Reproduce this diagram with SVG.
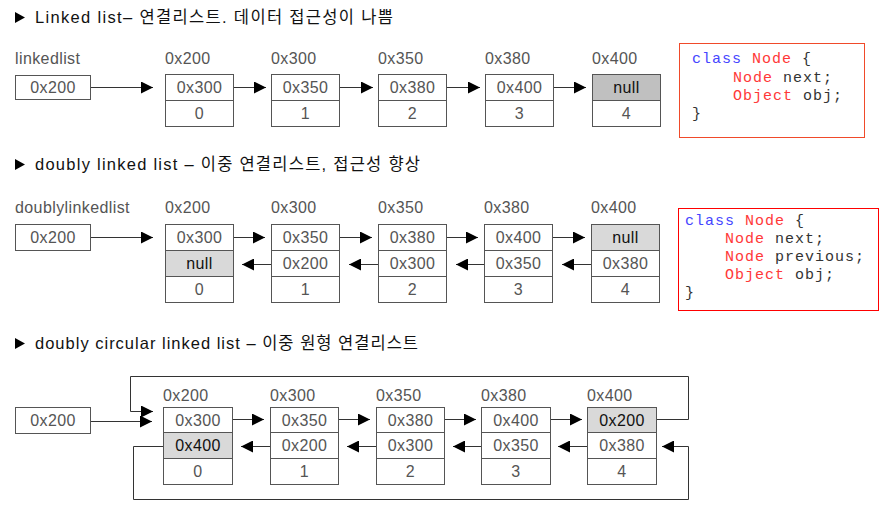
<svg xmlns="http://www.w3.org/2000/svg" width="893" height="506" viewBox="0 0 893 506">
<style>
.bg{fill:#fff}
.box{fill:#fff;stroke:#555;stroke-width:1}
.gd{fill:#c0c0c0;stroke:#555;stroke-width:1}
.gl{fill:#d9d9d9;stroke:#555;stroke-width:1}
.t{font-family:"Liberation Sans",Arial,sans-serif;font-size:16px;fill:#555;text-anchor:middle;letter-spacing:0.4px}
.tk{fill:#111}
.lbl{font-family:"Liberation Sans",Arial,sans-serif;font-size:16px;fill:#555;letter-spacing:0.4px}
.title{font-family:"Liberation Sans","Noto Sans CJK KR",sans-serif;font-size:16.5px;fill:#111}
.tri{fill:#000}
.con{stroke:#333;stroke-width:1;fill:none}
.code{font-family:"Liberation Mono","Courier New",monospace;font-size:15px;fill:#333;letter-spacing:1px;white-space:pre}
.kw{fill:#4646ff}
.ty{fill:#ff3838}
</style>
<defs>
<marker id="ah" markerUnits="userSpaceOnUse" markerWidth="12" markerHeight="12" refX="12" refY="6" orient="auto">
<path d="M0,0 L12,6 L0,12 z" fill="#000"/>
</marker>
</defs>
<rect class="bg" x="0" y="0" width="893" height="506"/>

<!-- Titles -->
<g id="titles">
<polygon class="tri" points="15,12 25,17.5 15,23"/>
<text class="title" x="35" y="23" textLength="358" lengthAdjust="spacing">Linked list– 연결리스트. 데이터 접근성이 나쁨</text>
<polygon class="tri" points="15,159 25,164.5 15,170"/>
<text class="title" x="35" y="170" textLength="385" lengthAdjust="spacing">doubly linked list – 이중 연결리스트, 접근성 향상</text>
<polygon class="tri" points="15,338 25,343.5 15,349"/>
<text class="title" x="35" y="349" textLength="383" lengthAdjust="spacing">doubly circular linked list – 이중 원형 연결리스트</text>
</g>

<!-- Row 1: singly linked list -->
<g id="r1-head">
<text class="lbl" x="15" y="64">linkedlist</text>
<rect class="box" x="15.5" y="75.5" width="75" height="24"/>
<text class="t" x="53" y="93">0x200</text>
</g>
<g id="r1-n0">
<text class="lbl" x="165" y="64">0x200</text>
<rect class="box" x="165.5" y="74.5" width="68" height="26"/>
<rect class="box" x="165.5" y="100.5" width="68" height="26"/>
<text class="t" x="199.5" y="93">0x300</text>
<text class="t" x="199.5" y="119">0</text>
</g>
<g id="r1-n1">
<text class="lbl" x="271" y="64">0x300</text>
<rect class="box" x="271.5" y="74.5" width="68" height="26"/>
<rect class="box" x="271.5" y="100.5" width="68" height="26"/>
<text class="t" x="305.5" y="93">0x350</text>
<text class="t" x="305.5" y="119">1</text>
</g>
<g id="r1-n2">
<text class="lbl" x="378" y="64">0x350</text>
<rect class="box" x="378.5" y="74.5" width="68" height="26"/>
<rect class="box" x="378.5" y="100.5" width="68" height="26"/>
<text class="t" x="412.5" y="93">0x380</text>
<text class="t" x="412.5" y="119">2</text>
</g>
<g id="r1-n3">
<text class="lbl" x="485" y="64">0x380</text>
<rect class="box" x="485.5" y="74.5" width="68" height="26"/>
<rect class="box" x="485.5" y="100.5" width="68" height="26"/>
<text class="t" x="519.5" y="93">0x400</text>
<text class="t" x="519.5" y="119">3</text>
</g>
<g id="r1-n4">
<text class="lbl" x="592" y="64">0x400</text>
<rect class="gd" x="592.5" y="74.5" width="68" height="26"/>
<rect class="box" x="592.5" y="100.5" width="68" height="26"/>
<text class="t tk" x="626.5" y="93">null</text>
<text class="t" x="626.5" y="119">4</text>
</g>
<g id="r1-code">
<rect x="679.5" y="43.5" width="185" height="94" fill="#fff" stroke="#f04a2a" stroke-width="1"/>
<text class="code" x="692" y="63"><tspan class="kw">class</tspan> <tspan class="ty">Node</tspan> {</text>
<text class="code" x="733" y="82"><tspan class="ty">Node</tspan> next;</text>
<text class="code" x="733" y="100"><tspan class="ty">Object</tspan> obj;</text>
<text class="code" x="692" y="118">}</text>
</g>

<!-- Row 2: doubly linked list -->
<g id="r2-head">
<text class="lbl" x="15" y="213">doublylinkedlist</text>
<rect class="box" x="15.5" y="224.5" width="75" height="26"/>
<text class="t" x="53" y="243">0x200</text>
</g>
<g id="r2-n0">
<text class="lbl" x="165" y="213">0x200</text>
<rect class="box" x="165.5" y="224.5" width="68" height="26"/>
<rect class="gl" x="165.5" y="250.5" width="68" height="26"/>
<rect class="box" x="165.5" y="276.5" width="68" height="26"/>
<text class="t" x="199.5" y="243">0x300</text>
<text class="t tk" x="199.5" y="269">null</text>
<text class="t" x="199.5" y="295">0</text>
</g>
<g id="r2-n1">
<text class="lbl" x="271" y="213">0x300</text>
<rect class="box" x="271.5" y="224.5" width="68" height="26"/>
<rect class="box" x="271.5" y="250.5" width="68" height="26"/>
<rect class="box" x="271.5" y="276.5" width="68" height="26"/>
<text class="t" x="305.5" y="243">0x350</text>
<text class="t" x="305.5" y="269">0x200</text>
<text class="t" x="305.5" y="295">1</text>
</g>
<g id="r2-n2">
<text class="lbl" x="378" y="213">0x350</text>
<rect class="box" x="378.5" y="224.5" width="68" height="26"/>
<rect class="box" x="378.5" y="250.5" width="68" height="26"/>
<rect class="box" x="378.5" y="276.5" width="68" height="26"/>
<text class="t" x="412.5" y="243">0x380</text>
<text class="t" x="412.5" y="269">0x300</text>
<text class="t" x="412.5" y="295">2</text>
</g>
<g id="r2-n3">
<text class="lbl" x="484" y="213">0x380</text>
<rect class="box" x="484.5" y="224.5" width="68" height="26"/>
<rect class="box" x="484.5" y="250.5" width="68" height="26"/>
<rect class="box" x="484.5" y="276.5" width="68" height="26"/>
<text class="t" x="518.5" y="243">0x400</text>
<text class="t" x="518.5" y="269">0x350</text>
<text class="t" x="518.5" y="295">3</text>
</g>
<g id="r2-n4">
<text class="lbl" x="591" y="213">0x400</text>
<rect class="gl" x="591.5" y="224.5" width="68" height="26"/>
<rect class="box" x="591.5" y="250.5" width="68" height="26"/>
<rect class="box" x="591.5" y="276.5" width="68" height="26"/>
<text class="t tk" x="625.5" y="243">null</text>
<text class="t" x="625.5" y="269">0x380</text>
<text class="t" x="625.5" y="295">4</text>
</g>
<g id="r2-code">
<rect x="678.5" y="208.5" width="200" height="102" fill="#fff" stroke="#ff0000" stroke-width="1"/>
<text class="code" x="685" y="225"><tspan class="kw">class</tspan> <tspan class="ty">Node</tspan> {</text>
<text class="code" x="725" y="243"><tspan class="ty">Node</tspan> next;</text>
<text class="code" x="725" y="261"><tspan class="ty">Node</tspan> previous;</text>
<text class="code" x="725" y="279"><tspan class="ty">Object</tspan> obj;</text>
<text class="code" x="685" y="297">}</text>
</g>

<!-- Row 3: doubly circular linked list -->
<g id="r3-head">
<rect class="box" x="15.5" y="407.5" width="75" height="26"/>
<text class="t" x="53" y="426">0x200</text>
</g>
<g id="r3-n0">
<text class="lbl" x="163" y="401">0x200</text>
<rect class="box" x="163.5" y="407.5" width="69" height="25"/>
<rect class="gl" x="163.5" y="432.5" width="69" height="26"/>
<rect class="box" x="163.5" y="458.5" width="69" height="26"/>
<text class="t" x="198" y="426">0x300</text>
<text class="t tk" x="198" y="451">0x400</text>
<text class="t" x="198" y="477">0</text>
</g>
<g id="r3-n1">
<text class="lbl" x="270" y="401">0x300</text>
<rect class="box" x="270.5" y="407.5" width="68" height="25"/>
<rect class="box" x="270.5" y="432.5" width="68" height="26"/>
<rect class="box" x="270.5" y="458.5" width="68" height="26"/>
<text class="t" x="304.5" y="426">0x350</text>
<text class="t" x="304.5" y="451">0x200</text>
<text class="t" x="304.5" y="477">1</text>
</g>
<g id="r3-n2">
<text class="lbl" x="376" y="401">0x350</text>
<rect class="box" x="376.5" y="407.5" width="68" height="25"/>
<rect class="box" x="376.5" y="432.5" width="68" height="26"/>
<rect class="box" x="376.5" y="458.5" width="68" height="26"/>
<text class="t" x="410.5" y="426">0x380</text>
<text class="t" x="410.5" y="451">0x300</text>
<text class="t" x="410.5" y="477">2</text>
</g>
<g id="r3-n3">
<text class="lbl" x="481" y="401">0x380</text>
<rect class="box" x="481.5" y="407.5" width="69" height="25"/>
<rect class="box" x="481.5" y="432.5" width="69" height="26"/>
<rect class="box" x="481.5" y="458.5" width="69" height="26"/>
<text class="t" x="516" y="426">0x400</text>
<text class="t" x="516" y="451">0x350</text>
<text class="t" x="516" y="477">3</text>
</g>
<g id="r3-n4">
<text class="lbl" x="587" y="401">0x400</text>
<rect class="gl" x="587.5" y="407.5" width="69" height="25"/>
<rect class="box" x="587.5" y="432.5" width="69" height="26"/>
<rect class="box" x="587.5" y="458.5" width="69" height="26"/>
<text class="t tk" x="622" y="426">0x200</text>
<text class="t" x="622" y="451">0x380</text>
<text class="t" x="622" y="477">4</text>
</g>

<!-- Connectors -->
<g id="connectors">
<line class="con" x1="91" y1="87.5" x2="153" y2="87.5" marker-end="url(#ah)"/>
<line class="con" x1="234" y1="87.5" x2="266" y2="87.5" marker-end="url(#ah)"/>
<line class="con" x1="340" y1="87.5" x2="373" y2="87.5" marker-end="url(#ah)"/>
<line class="con" x1="447" y1="87.5" x2="480" y2="87.5" marker-end="url(#ah)"/>
<line class="con" x1="554" y1="87.5" x2="586" y2="87.5" marker-end="url(#ah)"/>

<line class="con" x1="91" y1="237.5" x2="153" y2="237.5" marker-end="url(#ah)"/>
<line class="con" x1="234" y1="237.5" x2="265" y2="237.5" marker-end="url(#ah)"/>
<line class="con" x1="340" y1="237.5" x2="372" y2="237.5" marker-end="url(#ah)"/>
<line class="con" x1="447" y1="237.5" x2="478" y2="237.5" marker-end="url(#ah)"/>
<line class="con" x1="553" y1="237.5" x2="585" y2="237.5" marker-end="url(#ah)"/>
<line class="con" x1="271" y1="264.5" x2="242" y2="264.5" marker-end="url(#ah)"/>
<line class="con" x1="378" y1="264.5" x2="349" y2="264.5" marker-end="url(#ah)"/>
<line class="con" x1="484" y1="264.5" x2="456" y2="264.5" marker-end="url(#ah)"/>
<line class="con" x1="591" y1="264.5" x2="562" y2="264.5" marker-end="url(#ah)"/>

<line class="con" x1="91" y1="421.5" x2="152" y2="421.5" marker-end="url(#ah)"/>
<path class="con" d="M657,419.5 H688.5 V376.5 H130.5 V411.5 H153" marker-end="url(#ah)"/>
<line class="con" x1="233" y1="419.5" x2="264" y2="419.5" marker-end="url(#ah)"/>
<line class="con" x1="339" y1="419.5" x2="370" y2="419.5" marker-end="url(#ah)"/>
<line class="con" x1="445" y1="419.5" x2="476" y2="419.5" marker-end="url(#ah)"/>
<line class="con" x1="551" y1="419.5" x2="582" y2="419.5" marker-end="url(#ah)"/>
<line class="con" x1="270" y1="446.5" x2="241" y2="446.5" marker-end="url(#ah)"/>
<line class="con" x1="376" y1="446.5" x2="347" y2="446.5" marker-end="url(#ah)"/>
<line class="con" x1="481" y1="446.5" x2="453" y2="446.5" marker-end="url(#ah)"/>
<line class="con" x1="587" y1="446.5" x2="558" y2="446.5" marker-end="url(#ah)"/>
<path class="con" d="M163,446.5 H133.5 V499.5 H688.5 V446.5 H662" marker-end="url(#ah)"/>
</g>
</svg>
